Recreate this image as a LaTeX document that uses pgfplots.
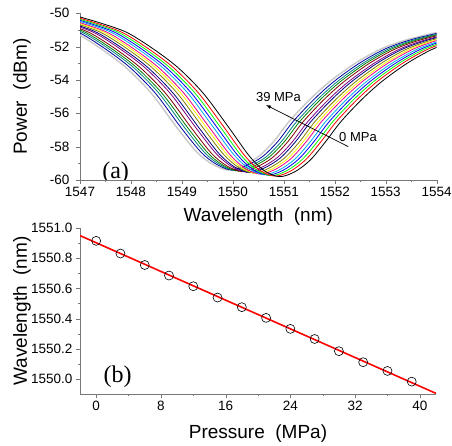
\documentclass[border=0pt]{standalone}
\usepackage{pgfplots}
\pgfplotsset{compat=1.18}
\usepackage{fontspec}
\setmainfont{Liberation Sans}
\newfontfamily\timesfont{Liberation Serif}

% Origin default line colours
\definecolor{cgreen}{RGB}{0,255,0}
\definecolor{cdkyellow}{RGB}{128,128,0}
\definecolor{cnavy}{RGB}{0,0,128}
\definecolor{cpurple}{RGB}{128,0,128}
\definecolor{cwine}{RGB}{128,0,0}
\definecolor{colive}{RGB}{0,128,0}
\definecolor{cdkcyan}{RGB}{0,128,128}
\definecolor{croyal}{RGB}{0,0,160}
\definecolor{cltgray}{RGB}{200,200,200}
\definecolor{axgray}{RGB}{120,120,120}

\pgfplotsset{
  myaxis/.style={
    scale only axis,
    axis x line*=bottom, axis y line*=left,
    axis line style={axgray,-},
    tick style={axgray},
    tick align=outside,
    major tick length=4pt, minor tick length=2.5pt,
    minor x tick num=1, minor y tick num=1,
    tick label style={font=\fontsize{13.5}{15}\selectfont},
    label style={font=\fontsize{19}{21}\selectfont},
    /pgf/number format/assume math mode=true,
    /pgf/number format/1000 sep={},
  }
}

\begin{document}
\begin{tikzpicture}
\useasboundingbox (0,0) rectangle (452pt,446pt);

% ---------------- (a) spectra ----------------
\begin{axis}[
  myaxis,
  at={(80pt,266pt)}, anchor=south west,
  width=356.7pt, height=166.7pt,
  xmin=1547, xmax=1554, ymin=-60, ymax=-50,
  xtick={1547,1548,1549,1550,1551,1552,1553,1554},
  ytick={-60,-58,-56,-54,-52,-50},
  yticklabel style={xshift=-3pt},
  xlabel={Wavelength\ \ (nm)},
  ylabel={Power\ \ (dBm)},
  xlabel style={at={(axis description cs:0.5,-0.222)}, anchor=center},
  ylabel style={at={(axis description cs:-0.163,0.5)}, anchor=center},
  every axis plot/.append style={smooth, no markers, line width=0.8pt},
]
\addplot[cltgray, line width=1.4pt] coordinates {(1545.90,-50.15) (1546.40,-50.6) (1546.90,-51.15) (1547.40,-52.1) (1547.90,-53.25) (1548.40,-54.8) (1548.90,-56.85) (1549.30,-58.35) (1549.60,-59.05) (1549.90,-59.40) (1550.20,-59.10) (1550.50,-58.60) (1550.80,-57.7) (1551.10,-56.5) (1551.50,-55.2) (1551.90,-54.1) (1552.40,-53.0) (1552.90,-52.15) (1553.40,-51.6) (1554.00,-51.15)};
\addplot[croyal] coordinates {(1545.98,-50.15) (1546.48,-50.6) (1546.98,-51.15) (1547.48,-52.1) (1547.98,-53.25) (1548.48,-54.8) (1548.98,-56.85) (1549.38,-58.35) (1549.68,-59.06) (1549.98,-59.41) (1550.28,-59.11) (1550.58,-58.60) (1550.88,-57.7) (1551.18,-56.5) (1551.58,-55.2) (1551.98,-54.1) (1552.48,-53.0) (1552.98,-52.15) (1553.48,-51.6) (1554.08,-51.15)};
\addplot[cdkcyan] coordinates {(1546.05,-50.15) (1546.55,-50.6) (1547.05,-51.15) (1547.55,-52.1) (1548.05,-53.25) (1548.55,-54.8) (1549.05,-56.85) (1549.45,-58.37) (1549.75,-59.09) (1550.05,-59.44) (1550.35,-59.14) (1550.65,-58.62) (1550.95,-57.7) (1551.25,-56.5) (1551.65,-55.2) (1552.05,-54.1) (1552.55,-53.0) (1553.05,-52.15) (1553.55,-51.6) (1554.15,-51.15)};
\addplot[colive] coordinates {(1546.11,-50.15) (1546.61,-50.6) (1547.11,-51.15) (1547.61,-52.1) (1548.11,-53.25) (1548.61,-54.8) (1549.11,-56.85) (1549.51,-58.38) (1549.81,-59.12) (1550.11,-59.47) (1550.41,-59.17) (1550.71,-58.63) (1551.01,-57.7) (1551.31,-56.5) (1551.71,-55.2) (1552.11,-54.1) (1552.61,-53.0) (1553.11,-52.15) (1553.61,-51.6) (1554.21,-51.15)};
\addplot[cwine] coordinates {(1546.18,-50.15) (1546.68,-50.6) (1547.18,-51.15) (1547.68,-52.1) (1548.18,-53.25) (1548.68,-54.8) (1549.18,-56.85) (1549.58,-58.40) (1549.88,-59.15) (1550.18,-59.50) (1550.48,-59.20) (1550.78,-58.65) (1551.08,-57.7) (1551.38,-56.5) (1551.78,-55.2) (1552.18,-54.1) (1552.68,-53.0) (1553.18,-52.15) (1553.68,-51.6) (1554.28,-51.15)};
\addplot[cpurple] coordinates {(1546.27,-50.15) (1546.77,-50.6) (1547.27,-51.15) (1547.77,-52.1) (1548.27,-53.25) (1548.77,-54.8) (1549.27,-56.85) (1549.67,-58.41) (1549.97,-59.18) (1550.27,-59.53) (1550.57,-59.23) (1550.87,-58.66) (1551.17,-57.7) (1551.47,-56.5) (1551.87,-55.2) (1552.27,-54.1) (1552.77,-53.0) (1553.27,-52.15) (1553.77,-51.6) (1554.37,-51.15)};
\addplot[cnavy] coordinates {(1546.33,-50.15) (1546.83,-50.6) (1547.33,-51.15) (1547.83,-52.1) (1548.33,-53.25) (1548.83,-54.8) (1549.33,-56.85) (1549.73,-58.43) (1550.03,-59.21) (1550.33,-59.56) (1550.63,-59.26) (1550.93,-58.68) (1551.23,-57.7) (1551.53,-56.5) (1551.93,-55.2) (1552.33,-54.1) (1552.83,-53.0) (1553.33,-52.15) (1553.83,-51.6) (1554.43,-51.15)};
\addplot[cdkyellow] coordinates {(1546.41,-50.15) (1546.91,-50.6) (1547.41,-51.15) (1547.91,-52.1) (1548.41,-53.25) (1548.91,-54.8) (1549.41,-56.85) (1549.81,-58.44) (1550.11,-59.24) (1550.41,-59.59) (1550.71,-59.29) (1551.01,-58.69) (1551.31,-57.7) (1551.61,-56.5) (1552.01,-55.2) (1552.41,-54.1) (1552.91,-53.0) (1553.41,-52.15) (1553.91,-51.6) (1554.51,-51.15)};
\addplot[yellow] coordinates {(1546.48,-50.15) (1546.98,-50.6) (1547.48,-51.15) (1547.98,-52.1) (1548.48,-53.25) (1548.98,-54.8) (1549.48,-56.85) (1549.88,-58.46) (1550.18,-59.27) (1550.48,-59.62) (1550.78,-59.32) (1551.08,-58.71) (1551.38,-57.7) (1551.68,-56.5) (1552.08,-55.2) (1552.48,-54.1) (1552.98,-53.0) (1553.48,-52.15) (1553.98,-51.6) (1554.58,-51.15)};
\addplot[magenta] coordinates {(1546.54,-50.15) (1547.04,-50.6) (1547.54,-51.15) (1548.04,-52.1) (1548.54,-53.25) (1549.04,-54.8) (1549.54,-56.85) (1549.94,-58.47) (1550.24,-59.30) (1550.54,-59.65) (1550.84,-59.35) (1551.14,-58.72) (1551.44,-57.7) (1551.74,-56.5) (1552.14,-55.2) (1552.54,-54.1) (1553.04,-53.0) (1553.54,-52.15) (1554.04,-51.6) (1554.64,-51.15)};
\addplot[cyan] coordinates {(1546.62,-50.15) (1547.12,-50.6) (1547.62,-51.15) (1548.12,-52.1) (1548.62,-53.25) (1549.12,-54.8) (1549.62,-56.85) (1550.02,-58.49) (1550.32,-59.33) (1550.62,-59.68) (1550.92,-59.38) (1551.22,-58.74) (1551.52,-57.7) (1551.82,-56.5) (1552.22,-55.2) (1552.62,-54.1) (1553.12,-53.0) (1553.62,-52.15) (1554.12,-51.6) (1554.72,-51.15)};
\addplot[blue] coordinates {(1546.69,-50.15) (1547.19,-50.6) (1547.69,-51.15) (1548.19,-52.1) (1548.69,-53.25) (1549.19,-54.8) (1549.69,-56.85) (1550.09,-58.50) (1550.39,-59.36) (1550.69,-59.71) (1550.99,-59.41) (1551.29,-58.75) (1551.59,-57.7) (1551.89,-56.5) (1552.29,-55.2) (1552.69,-54.1) (1553.19,-53.0) (1553.69,-52.15) (1554.19,-51.6) (1554.79,-51.15)};
\addplot[cgreen] coordinates {(1546.76,-50.15) (1547.26,-50.6) (1547.76,-51.15) (1548.26,-52.1) (1548.76,-53.25) (1549.26,-54.8) (1549.76,-56.85) (1550.16,-58.52) (1550.46,-59.39) (1550.76,-59.74) (1551.06,-59.44) (1551.36,-58.77) (1551.66,-57.7) (1551.96,-56.5) (1552.36,-55.2) (1552.76,-54.1) (1553.26,-53.0) (1553.76,-52.15) (1554.26,-51.6) (1554.86,-51.15)};
\addplot[red] coordinates {(1546.83,-50.15) (1547.33,-50.6) (1547.83,-51.15) (1548.33,-52.1) (1548.83,-53.25) (1549.33,-54.8) (1549.83,-56.85) (1550.23,-58.53) (1550.53,-59.42) (1550.83,-59.77) (1551.13,-59.47) (1551.43,-58.78) (1551.73,-57.7) (1552.03,-56.5) (1552.43,-55.2) (1552.83,-54.1) (1553.33,-53.0) (1553.83,-52.15) (1554.33,-51.6) (1554.93,-51.15)};
\addplot[black] coordinates {(1546.92,-50.15) (1547.42,-50.6) (1547.92,-51.15) (1548.42,-52.1) (1548.92,-53.25) (1549.42,-54.8) (1549.92,-56.85) (1550.32,-58.55) (1550.62,-59.45) (1550.92,-59.8) (1551.22,-59.5) (1551.52,-58.8) (1551.82,-57.7) (1552.12,-56.5) (1552.52,-55.2) (1552.92,-54.1) (1553.42,-53.0) (1553.92,-52.15) (1554.42,-51.6) (1555.02,-51.15)};

\draw[-latex, line width=0.7pt] (axis cs:1552.265,-58.0) -- (axis cs:1550.65,-55.5);
\node[font=\fontsize{13}{15}\selectfont] at (axis cs:1550.895,-55.03) {39 MPa};
\node[font=\fontsize{13}{15}\selectfont] at (axis cs:1552.455,-57.40) {0 MPa};
\node[font=\timesfont\fontsize{24}{26}\selectfont] at (axis cs:1547.70,-59.55) {(a)};
\end{axis}

% ---------------- (b) wavelength vs pressure ----------------
\begin{axis}[
  myaxis,
  at={(80pt,52pt)}, anchor=south west,
  width=356pt, height=165.8pt,
  xmin=-2, xmax=42, ymin=1549.9, ymax=1551.0,
  xtick={0,8,16,24,32,40},
  ytick={1550.0,1550.2,1550.4,1550.6,1550.8,1551.0},
  yticklabel style={/pgf/number format/.cd, fixed, fixed zerofill, precision=1},
  xlabel={Pressure\ \ (MPa)},
  ylabel={Wavelength\ \ (nm)},
  xlabel style={at={(axis description cs:0.5,-0.238)}, anchor=center},
  ylabel style={at={(axis description cs:-0.163,0.5)}, anchor=center},
]
\addplot[red, line width=1.6pt, no markers] coordinates {(-2,1550.951) (42,1549.904)};
\addplot[only marks, mark=o, mark size=4.5pt, mark options={black, line width=0.6pt}] coordinates {
  (0,1550.916) (3,1550.832) (6,1550.756) (9,1550.686) (12,1550.615) (15,1550.540) (18,1550.476)
  (21,1550.405) (24,1550.332) (27,1550.265) (30,1550.184) (33,1550.111) (36,1550.053) (39,1549.982)
};
\node[font=\timesfont\fontsize{24}{26}\selectfont] at (axis cs:2.64,1550.015) {(b)};
\end{axis}
\end{tikzpicture}
\end{document}
